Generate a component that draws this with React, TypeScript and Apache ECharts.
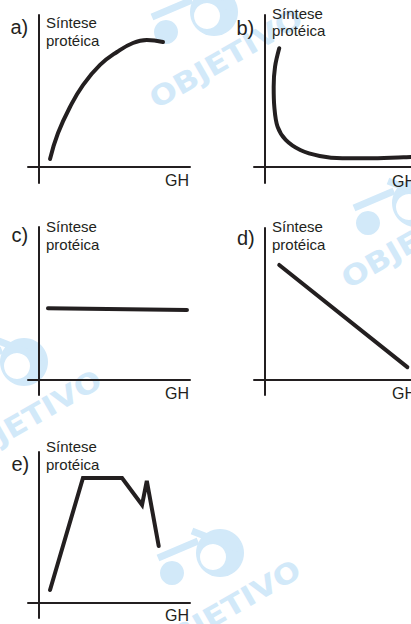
import React, { useEffect, useRef } from "react";
import * as echarts from "echarts";

// ---- data ----
const panelLetters = ["a)", "b)", "c)", "d)", "e)"];
const yTitleLine1 = "Síntese";
const yTitleLine2 = "protéica";
const xTitle = "GH";
const watermarkText = "OBJETIVO";

const curveA: number[][] = [
  [1.04, 0.48], [1.78, 2.1], [2.89, 3.73], [4.09, 5.1], [5.67, 6.36],
  [7.24, 7.17], [8.72, 7.73], [10.0, 7.92], [11.5, 7.79],
];
const curveB: number[][] = [
  [1.41, 7.4], [1.01, 6.25], [0.88, 5.0], [0.94, 3.75], [1.25, 2.5],
  [2.03, 1.67], [3.42, 1.04], [5.27, 0.67], [7.43, 0.53], [9.9, 0.53],
  [13.29, 0.59], [14.0, 0.6],
];
const lineC: number[][] = [[0.85, 4.48], [13.72, 4.38]];
const lineD: number[][] = [[1.41, 7.19], [13.65, 0.8]];
const lineE: number[][] = [
  [1.04, 0.79], [4.09, 7.79], [7.71, 7.79], [9.56, 6.11], [10.0, 7.61], [11.1, 3.54],
];
const seriesData = [curveA, curveB, lineC, lineD, lineE];
const smoothing = [0.45, 0.35, false, false, false];

// ---- layout ----
const panels = [
  { left: 28, top: 15, width: 162, height: 168, ymin: -1.02, ymax: 9.48 },
  { left: 254, top: 15, width: 162, height: 168, ymin: -1.02, ymax: 9.48 },
  { left: 28, top: 227, width: 162, height: 168, ymin: -0.94, ymax: 9.56 },
  { left: 254, top: 228, width: 162, height: 167, ymin: -0.94, ymax: 9.5 },
  { left: 28, top: 452, width: 162, height: 166, ymin: -0.96, ymax: 9.41 },
];
// text baselines: [letterX, letterBase, titleX, title1Base, title2Base, ghX, ghBase]
const textPos = [
  [10.5, 34, 46, 28, 46, 165, 186.5],
  [236.5, 35, 272, 18.5, 36, 392, 187],
  [11.5, 242, 46, 232, 250, 165, 399],
  [237, 245, 272, 232, 250, 392, 399],
  [11.5, 471, 46, 452, 470, 165, 621],
];
const watermarks = [
  { x: 226, y: 58, lx: 214, ly: 12 },
  { x: 418, y: 238, lx: 416, ly: 203 },
  { x: 25, y: 420, lx: 24, ly: 362 },
  { x: 224, y: 610, lx: 220, ly: 553 },
];

const INK = "#231f20";
const WM = "#d2e9f9";
const FONT = '"Liberation Sans", Arial, Helvetica, sans-serif';

function txt(text: string, x: number, base: number, size: number) {
  return {
    type: "text",
    z: 10,
    style: {
      text,
      x,
      y: base - 0.35 * size,
      fill: INK,
      fontSize: size,
      fontFamily: FONT,
      align: "left",
      verticalAlign: "middle",
      textAlign: "left",
      textVerticalAlign: "middle",
    },
  };
}

export default function App() {
  const ref = useRef<HTMLDivElement>(null);
  useEffect(() => {
    document.body.style.margin = "0";
    const chart = echarts.init(ref.current!, null, { renderer: "svg" });
    const graphics: any[] = [];
    watermarks.forEach((w) => {
      graphics.push({
        type: "group",
        x: w.lx,
        y: w.ly,
        z: 0,
        children: [
          { type: "circle", shape: { cx: 0, cy: 0, r: 24 }, style: { fill: WM } },
          { type: "circle", shape: { cx: -7, cy: 4, r: 13 }, style: { fill: "#ffffff" } },
          { type: "circle", shape: { cx: -48, cy: 20, r: 12 }, style: { fill: WM } },
          { type: "line", shape: { x1: -62, y1: 5, x2: -22, y2: -12 }, style: { stroke: WM, lineWidth: 7 } },
          { type: "line", shape: { x1: -28, y1: -22, x2: 18, y2: -4 }, style: { stroke: WM, lineWidth: 7 } },
        ],
      });
      graphics.push({
        type: "group",
        x: w.x,
        y: w.y,
        rotation: (30 * Math.PI) / 180,
        z: 0,
        children: [
          {
            type: "text",
            scaleX: 1.15,
            style: {
              text: watermarkText,
              x: 0,
              y: 0,
              fill: WM,
              fontSize: 28,
              fontWeight: "bold",
              fontFamily: '"DejaVu Sans", sans-serif',
              align: "center",
              verticalAlign: "middle",
              textAlign: "center",
              textVerticalAlign: "middle",
            },
          },
        ],
      });
    });
    textPos.forEach((p, i) => {
      graphics.push(txt(panelLetters[i], p[0], p[1], 20));
      graphics.push(txt(yTitleLine1, p[2], p[3], 15));
      graphics.push(txt(yTitleLine2, p[2], p[4], 15));
      graphics.push(txt(xTitle, p[5], p[6], 16));
    });

    const axisCommon = {
      type: "value",
      axisTick: { show: false },
      axisLabel: { show: false },
      splitLine: { show: false },
      axisLine: { show: true, onZero: true, lineStyle: { color: INK, width: 2 } },
    };
    chart.setOption({
      animation: false,
      backgroundColor: "#ffffff",
      grid: panels.map((p) => ({ left: p.left, top: p.top, width: p.width, height: p.height })),
      xAxis: panels.map((p, i) => ({ ...axisCommon, gridIndex: i, min: -1, max: 14 })),
      yAxis: panels.map((p, i) => ({ ...axisCommon, gridIndex: i, min: p.ymin, max: p.ymax })),
      series: seriesData.map((d, i) => ({
        type: "line",
        xAxisIndex: i,
        yAxisIndex: i,
        data: d,
        smooth: smoothing[i],
        symbol: "none",
        showSymbol: false,
        clip: true,
        z: 5,
        lineStyle: { color: INK, width: 4, cap: "round", join: "miter" },
      })),
      graphic: graphics,
    });
    return () => chart.dispose();
  }, []);
  return (
    <div
      ref={ref}
      style={{ position: "absolute", left: 0, top: 0, width: 411, height: 624 }}
    />
  );
}
